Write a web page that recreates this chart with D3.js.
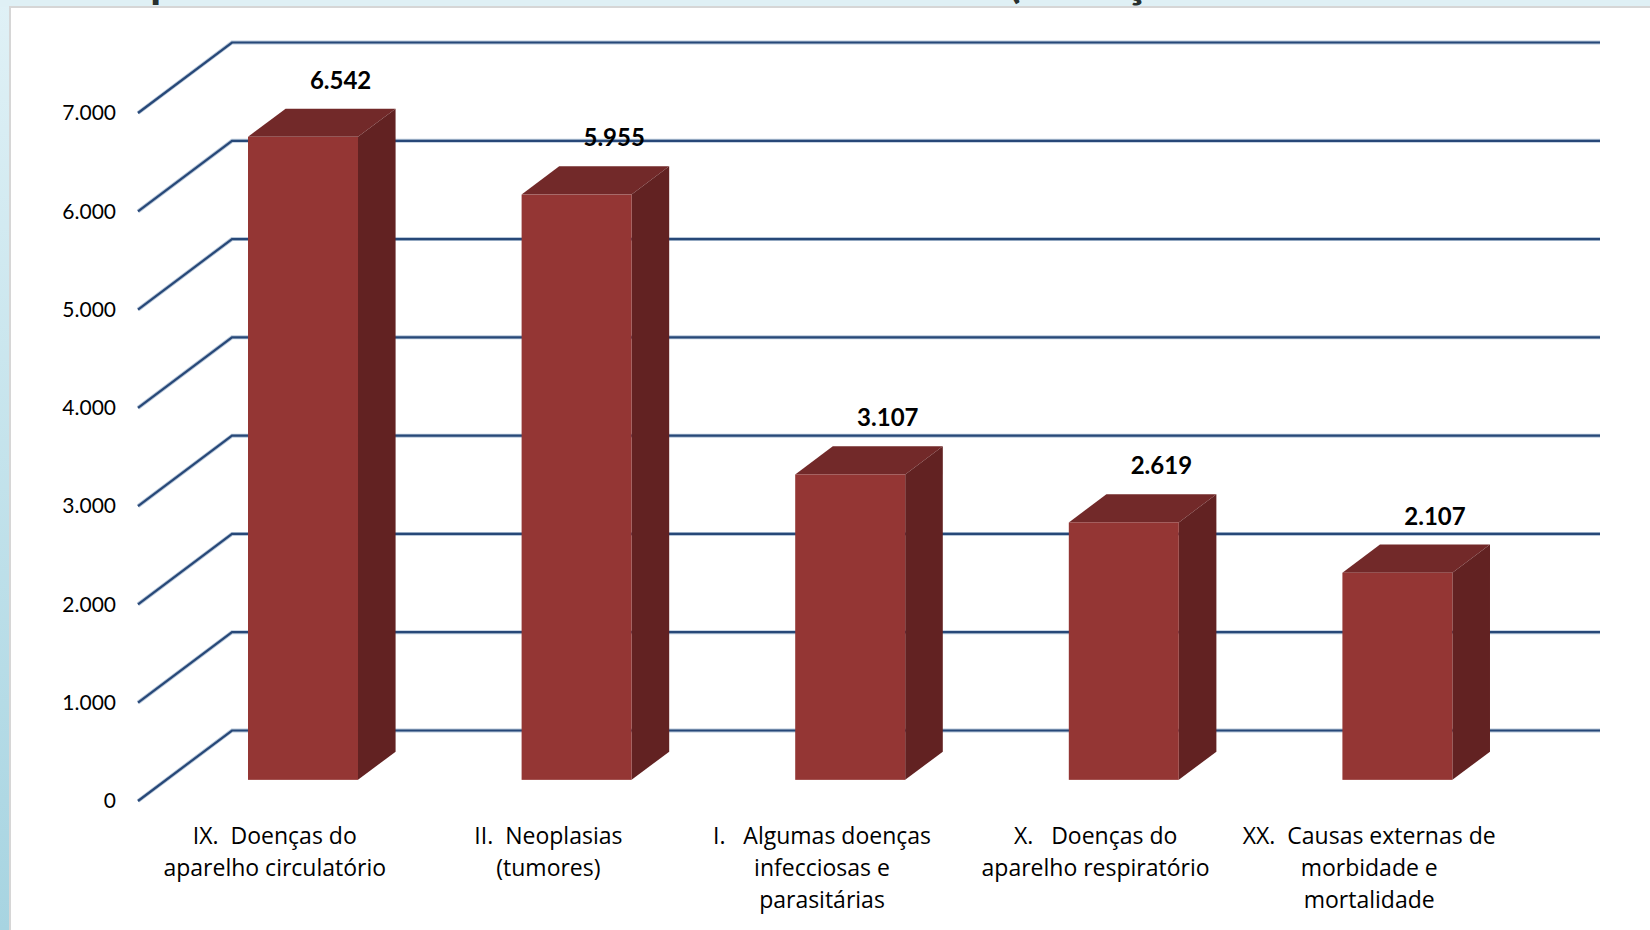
<!DOCTYPE html>
<html lang="pt">
<head>
<meta charset="UTF-8">
<title>Óbitos por capítulo</title>
<script src="https://cdn.jsdelivr.net/npm/d3@7"></script>
<style>
  html, body { margin: 0; padding: 0; background: #dff0f5; }
  svg { display: block; }
  text { font-family: Lato, "Open Sans", sans-serif; white-space: pre; }
</style>
</head>
<body>
<svg width="1650" height="930"></svg>
<script>
// dados
var categories = [
  ["IX.  Doenças do", "aparelho circulatório"],
  ["II.  Neoplasias", "(tumores)"],
  ["I.   Algumas doenças", "infecciosas e", "parasitárias"],
  ["X.   Doenças do", "aparelho respiratório"],
  ["XX.  Causas externas de", "morbidade e", "mortalidade"]
]
var values = [6542, 5955, 3107, 2619, 2107]
var yTicks = [0, 1000, 2000, 3000, 4000, 5000, 6000, 7000]

var svg = d3.select("svg")
var width = +svg.attr("width")
var height = +svg.attr("height")

// separador de milhar com ponto
var br = d3.formatLocale({decimal: ",", thousands: ".", grouping: [3], currency: ["R$", ""]})
var fmt = br.format(",")

// fundo da página (degradê) e painel branco
var defs = svg.append("defs")
var grad = defs.append("linearGradient").attr("id", "bg").attr("x1", 0).attr("y1", 0).attr("x2", 0).attr("y2", 1)
grad.append("stop").attr("offset", "0%").attr("stop-color", "#e0f1f6")
grad.append("stop").attr("offset", "100%").attr("stop-color", "#a7d4e1")
svg.append("rect").attr("width", width).attr("height", height).attr("fill", "url(#bg)")
svg.append("rect").attr("x", 0).attr("y", 0).attr("width", width).attr("height", 7).attr("fill", "#dff0f5")

// título do slide, quase todo escondido acima do painel
defs.append("clipPath").attr("id", "topclip").append("rect").attr("x", 0).attr("y", 0).attr("width", width).attr("height", 6)
var title = svg.append("text").attr("clip-path", "url(#topclip)").attr("y", -3)
  .attr("font-size", 46).attr("font-weight", "bold").attr("fill", "#28302f")
title.append("tspan").attr("x", 150).text("p")
title.append("tspan").attr("x", 1008).text("(")
title.append("tspan").attr("x", 1124).text("ç")

svg.append("rect").attr("x", 10).attr("y", 7).attr("width", width + 20).attr("height", height + 20)
  .attr("fill", "#fff").attr("stroke", "#d6d6d6").attr("stroke-width", 2)

// escalas
var y = d3.scaleLinear().domain([0, 7000]).range([801, 113])
var x = d3.scaleBand().domain(d3.range(values.length)).range([138, 1506])
  .paddingInner(0.598).paddingOuter(0.299)
var depth = {dx: 94, dy: -70.5}
var f0 = 0.30, f1 = 0.70   // posição da barra na profundidade

var g = svg.append("g")

// linhas de grade (parede lateral + fundo)
function gridPath(t) {
  return `M ${x.range()[0]},${y(t)} L ${x.range()[0] + depth.dx},${y(t) + depth.dy} H ${x.range()[1] + depth.dx}`
}
var grid = g.append("g")
grid.selectAll("path.halo").data(yTicks).enter().append("path")
  .attr("d", gridPath)
  .attr("fill", "none").attr("stroke", "#b9c8da").attr("stroke-width", 4)
grid.selectAll("path.line").data(yTicks).enter().append("path")
  .attr("d", gridPath)
  .attr("fill", "none").attr("stroke", "#274878").attr("stroke-width", 2.2)

// rótulos do eixo y
g.append("g").selectAll("text").data(yTicks).enter().append("text")
  .attr("x", 116).attr("y", d => y(d)).attr("dy", "0.35em")
  .attr("text-anchor", "end").attr("font-size", 21).attr("fill", "#000")
  .text(d => fmt(d))

// barras 3D
var bars = g.append("g").selectAll("g").data(values).enter().append("g")
function pts(arr) { return arr.map(p => p.join(",")).join(" ") }
bars.append("polygon") // topo
  .attr("points", function (v, i) {
    var a = x(i), b = x(i) + x.bandwidth(), t = y(v)
    return pts([[a + f0 * depth.dx, t + f0 * depth.dy], [a + f1 * depth.dx, t + f1 * depth.dy],
      [b + f1 * depth.dx, t + f1 * depth.dy], [b + f0 * depth.dx, t + f0 * depth.dy]])
  })
  .attr("fill", "#722929")
bars.append("polygon") // lateral
  .attr("points", function (v, i) {
    var b = x(i) + x.bandwidth(), t = y(v), z = y(0)
    return pts([[b + f0 * depth.dx, t + f0 * depth.dy], [b + f1 * depth.dx, t + f1 * depth.dy],
      [b + f1 * depth.dx, z + f1 * depth.dy], [b + f0 * depth.dx, z + f0 * depth.dy]])
  })
  .attr("fill", "#622222")
bars.append("rect") // frente
  .attr("x", (v, i) => x(i) + f0 * depth.dx)
  .attr("y", v => y(v) + f0 * depth.dy)
  .attr("width", x.bandwidth())
  .attr("height", v => y(0) - y(v))
  .attr("fill", "#943634")

// valores
g.append("g").selectAll("text").data(values).enter().append("text")
  .attr("x", (v, i) => x(i) + x.bandwidth() / 2 + f1 * depth.dx)
  .attr("y", v => y(v) + f1 * depth.dy - 20)
  .attr("text-anchor", "middle").attr("font-size", 24).attr("font-weight", "bold").attr("fill", "#000")
  .text(v => fmt(v))

// rótulos das categorias
var cat = g.append("g").selectAll("text").data(categories).enter().append("text")
  .attr("text-anchor", "middle").attr("font-size", 23).attr("fill", "#000")
  .style("font-family", "'Open Sans', Lato, sans-serif")
cat.selectAll("tspan").data(function (d, i) { return d.map(s => ({s: s, i: i})) }).enter().append("tspan")
  .attr("x", d => x(d.i) + x.bandwidth() / 2)
  .attr("y", (d, j) => 844 + j * 32)
  .text(d => d.s)
</script>
</body>
</html>
